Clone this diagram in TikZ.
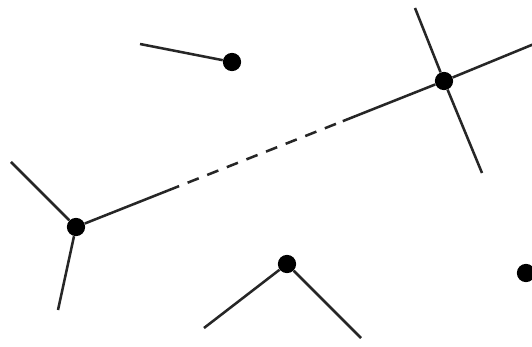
\documentclass[tikz,border=0pt]{standalone}
\usepackage{tikz}
\usetikzlibrary{calc}
\tikzstyle{dot} = [circle, fill=black, inner sep=0pt, minimum size=13pt]
\tikzstyle{edge} = [line width=1.8pt, black!85]

\begin{document}
\begin{tikzpicture}[x=0.025cm, y=-0.025cm]
    % Frame
    \clip (0,0) rectangle (532,347);
    \fill[white] (0,0) rectangle (532,347);

    % Sites
    \node[dot] (a) at (232,62) {};
    \node[dot] (b) at (444,81) {};
    \node[dot] (c) at (76,227) {};
    \node[dot] (d) at (287,264) {};
    \node[dot] (e) at (526,273) {};

    % Free ends
    \coordinate (a1) at (140,44);
    \coordinate (b1) at (415,8);
    \coordinate (b2) at (482,173);
    \coordinate (b3) at (534,44);
    \coordinate (c1) at (11,162);
    \coordinate (c2) at (58,310);
    \coordinate (d1) at (204,328);
    \coordinate (d2) at (361,338);

    % Break points of the long edge
    \coordinate (s1) at ($(c)!0.25!(b)$);
    \coordinate (s2) at ($(c)!0.725!(b)$);

    % Edges
    \draw[edge] (a1) -- (a);
    \draw[edge] (b1) -- (b) -- (b2);
    \draw[edge] (b) -- (b3);
    \draw[edge] (c1) -- (c) -- (c2);
    \draw[edge] (d1) -- (d) -- (d2);

    % Long edge, dashed in the middle
    \draw[edge] (c) -- (s1);
    \draw[edge, dash pattern=on 8.5pt off 6.5pt] (s1) -- (s2);
    \draw[edge] (s2) -- (b);
\end{tikzpicture}
\end{document}
